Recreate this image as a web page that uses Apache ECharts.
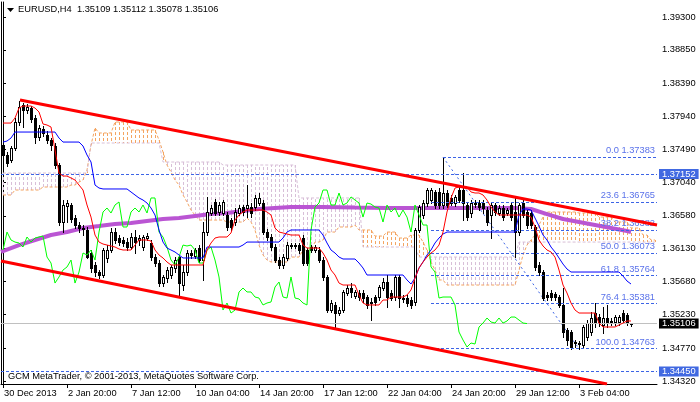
<!DOCTYPE html>
<html><head><meta charset="utf-8">
<script src="https://cdn.jsdelivr.net/npm/echarts/dist/echarts.min.js"></script>
<style>html,body{margin:0;padding:0;background:#fff}#c{width:700px;height:402px}</style>
</head><body><div id="c"></div>
<script>
const FONT = "'Liberation Sans', Arial, sans-serif";
const FS = 9.3;

const xTickBars = [0,16,32,48,64,80,96,112,128,144];
const xTickLabels = ['30 Dec 2013','2 Jan 20:00','7 Jan 12:00','10 Jan 04:00','14 Jan 20:00','17 Jan 12:00','22 Jan 04:00','24 Jan 20:00','29 Jan 12:00','3 Feb 04:00'];
const yTicks = [1.34320,1.34770,1.35230,1.35680,1.36130,1.36580,1.37040,1.37490,1.37940,1.38390,1.38850,1.39300];

const open = [
1.37548,1.37412,1.37343,1.37507,1.37863,1.38096,1.38027,1.38055,1.37918,1.37658,
1.37767,1.37685,1.37617,1.37535,1.37275,1.36495,1.36714,1.36728,1.36550,1.36454,
1.36413,1.36386,1.36071,1.35907,1.35811,1.35770,1.36003,1.36112,1.36358,1.36276,
1.36249,1.36221,1.36153,1.36290,1.36249,1.36153,1.36276,1.36208,1.36016,1.35934,
1.35660,1.35729,1.35770,1.35866,1.36016,1.35633,1.35811,1.36071,1.36030,1.36139,
1.35975,1.36358,1.36618,1.36769,1.36632,1.36618,1.36591,1.36522,1.36495,1.36618,
1.36700,1.36687,1.36700,1.36700,1.36755,1.36755,1.36358,1.36290,1.36153,1.35975,
1.35907,1.36003,1.36180,1.36167,1.36180,1.36276,1.36112,1.36153,1.36112,1.36112,
1.35975,1.35743,1.35291,1.35360,1.35250,1.35291,1.35524,1.35592,1.35483,1.35524,
1.35524,1.35469,1.35401,1.35469,1.35469,1.35592,1.35674,1.35524,1.35469,1.35743,
1.35455,1.35455,1.35428,1.35401,1.36386,1.36591,1.36755,1.36796,1.36906,1.36906,
1.36728,1.36892,1.36824,1.36755,1.36933,1.36933,1.36728,1.36618,1.36755,1.36755,
1.36755,1.36659,1.36591,1.36728,1.36618,1.36687,1.36618,1.36728,1.36632,1.36358,
1.36755,1.36632,1.36618,1.36427,1.35907,1.35811,1.35496,1.35524,1.35510,1.35469,
1.35360,1.35018,1.34990,1.34853,1.34840,1.34812,1.34922,1.34990,1.35250,1.35195,
1.35086,1.35182,1.35127,1.35127,1.35127,1.35250,1.35223,1.35109];
const high = [
1.37617,1.37453,1.37535,1.37918,1.38150,1.38123,1.38109,1.38082,1.37959,1.37822,
1.37808,1.37740,1.37644,1.37576,1.37302,1.36796,1.36796,1.36755,1.36591,1.36495,
1.36454,1.36427,1.36112,1.35948,1.35838,1.36139,1.36180,1.36413,1.36413,1.36317,
1.36290,1.36276,1.36345,1.36386,1.36317,1.36317,1.36345,1.36249,1.36057,1.35975,
1.35770,1.35880,1.35907,1.36016,1.36044,1.35907,1.36112,1.36112,1.36139,1.36180,
1.36495,1.36838,1.36728,1.36810,1.36769,1.36796,1.36632,1.36550,1.36687,1.36728,
1.36728,1.37001,1.36755,1.36865,1.36892,1.36796,1.36399,1.36331,1.36194,1.36016,
1.36057,1.36221,1.36208,1.36208,1.36208,1.36317,1.36139,1.36180,1.36180,1.36153,
1.36016,1.35770,1.35428,1.35401,1.35332,1.35565,1.35633,1.35660,1.35565,1.35565,
1.35565,1.35496,1.35455,1.35496,1.35633,1.35729,1.35770,1.35565,1.35770,1.35770,
1.35496,1.35496,1.35469,1.36413,1.36728,1.36796,1.36960,1.36960,1.36933,1.36960,
1.37383,1.36933,1.36865,1.36865,1.37001,1.37165,1.36755,1.36796,1.36796,1.36796,
1.36796,1.36700,1.36755,1.36755,1.36728,1.36728,1.36687,1.36755,1.36838,1.36755,
1.36796,1.36659,1.36659,1.36454,1.35948,1.35838,1.35538,1.35565,1.35538,1.35496,
1.35592,1.35045,1.35018,1.34881,1.34867,1.35086,1.35154,1.35264,1.35387,1.35236,
1.35332,1.35360,1.35182,1.35223,1.35223,1.35291,1.35250,1.35112];
const low = [
1.37302,1.37261,1.37316,1.37480,1.37822,1.37795,1.37986,1.37863,1.37576,1.37617,
1.37672,1.37576,1.37480,1.37234,1.36454,1.36358,1.36495,1.36495,1.36413,1.36358,
1.36317,1.36003,1.35811,1.35756,1.35729,1.35743,1.35948,1.36085,1.36208,1.36180,
1.36167,1.36112,1.36126,1.36071,1.36180,1.36112,1.36249,1.35975,1.35893,1.35619,
1.35619,1.35674,1.35729,1.35811,1.35469,1.35565,1.35770,1.36003,1.36003,1.35948,
1.35702,1.36317,1.36591,1.36591,1.36591,1.36591,1.36386,1.36386,1.36454,1.36591,
1.36591,1.36563,1.36563,1.36659,1.36728,1.36331,1.36249,1.36112,1.35948,1.35866,
1.35866,1.35975,1.36139,1.36139,1.36071,1.35907,1.35907,1.36085,1.36085,1.35948,
1.35702,1.35264,1.35264,1.35045,1.35223,1.35264,1.35496,1.35469,1.35455,1.35428,
1.35401,1.35319,1.35154,1.35360,1.35428,1.35565,1.35332,1.35428,1.35428,1.35332,
1.35401,1.35346,1.35319,1.35360,1.36358,1.36550,1.36714,1.36755,1.36687,1.36687,
1.36687,1.36700,1.36728,1.36714,1.36769,1.36522,1.36522,1.36563,1.36700,1.36659,
1.36618,1.36454,1.36276,1.36591,1.36591,1.36522,1.36591,1.36522,1.36016,1.36317,
1.36563,1.36413,1.36413,1.35838,1.35770,1.35428,1.35428,1.35428,1.35428,1.35332,
1.34922,1.34812,1.34758,1.34785,1.34758,1.34785,1.34881,1.34950,1.35059,1.35072,
1.34977,1.35059,1.35086,1.35086,1.35086,1.35113,1.35086,1.35078];
const close = [
1.37412,1.37302,1.37507,1.37863,1.38068,1.38027,1.38068,1.37904,1.37658,1.37781,
1.37713,1.37617,1.37548,1.37275,1.36495,1.36728,1.36755,1.36536,1.36454,1.36413,
1.36399,1.36016,1.35866,1.35811,1.35770,1.36112,1.36112,1.36358,1.36249,1.36221,
1.36208,1.36153,1.36290,1.36221,1.36276,1.36290,1.36303,1.36016,1.35934,1.35660,
1.35743,1.35838,1.35880,1.35975,1.35660,1.35811,1.36071,1.36044,1.36112,1.35975,
1.36358,1.36632,1.36687,1.36618,1.36728,1.36769,1.36427,1.36427,1.36632,1.36687,
1.36632,1.36728,1.36618,1.36824,1.36824,1.36358,1.36290,1.36153,1.35975,1.35907,
1.36016,1.36180,1.36167,1.36180,1.36112,1.35934,1.35934,1.36112,1.36153,1.35975,
1.35743,1.35291,1.35387,1.35250,1.35291,1.35538,1.35592,1.35538,1.35538,1.35469,
1.35455,1.35360,1.35387,1.35401,1.35606,1.35674,1.35469,1.35455,1.35743,1.35455,
1.35442,1.35387,1.35360,1.36386,1.36700,1.36755,1.36933,1.36933,1.36728,1.36728,
1.36892,1.36728,1.36755,1.36838,1.36796,1.36755,1.36563,1.36755,1.36741,1.36700,
1.36687,1.36495,1.36728,1.36632,1.36687,1.36563,1.36659,1.36563,1.36358,1.36728,
1.36591,1.36454,1.36454,1.35880,1.35811,1.35455,1.35469,1.35469,1.35469,1.35360,
1.34990,1.34881,1.34785,1.34840,1.34826,1.35059,1.35113,1.35182,1.35127,1.35113,
1.35182,1.35113,1.35141,1.35195,1.35195,1.35154,1.35113,1.35106];

const tenkan = [
1.37849,1.37849,1.37849,1.37918,1.38055,1.38082,1.38082,1.38082,1.38055,1.38000,
1.37836,1.37822,1.37795,1.37480,1.37165,1.37124,1.37124,1.37097,1.37070,1.37001,
1.36933,1.36728,1.36563,1.36317,1.36221,1.36194,1.36180,1.36167,1.36153,1.36126,
1.36112,1.36112,1.36112,1.36180,1.36249,1.36249,1.36249,1.36235,1.36112,1.36044,
1.36003,1.35948,1.35907,1.35907,1.35907,1.35907,1.35907,1.35907,1.35907,1.35907,
1.35907,1.36112,1.36208,1.36276,1.36290,1.36290,1.36290,1.36345,1.36522,1.36591,
1.36632,1.36659,1.36659,1.36659,1.36659,1.36659,1.36632,1.36591,1.36413,1.36358,
1.36345,1.36331,1.36317,1.36317,1.36317,1.36180,1.36139,1.36139,1.36139,1.36139,
1.36071,1.35975,1.35838,1.35770,1.35660,1.35633,1.35633,1.35633,1.35633,1.35496,
1.35387,1.35360,1.35360,1.35360,1.35360,1.35428,1.35428,1.35469,1.35469,1.35469,
1.35469,1.35496,1.35565,1.35729,1.35866,1.35948,1.36016,1.36071,1.36112,1.36180,
1.36358,1.36632,1.36824,1.36960,1.36974,1.36974,1.36974,1.36906,1.36892,1.36892,
1.36865,1.36796,1.36700,1.36632,1.36591,1.36591,1.36591,1.36591,1.36591,1.36591,
1.36591,1.36591,1.36563,1.36427,1.36249,1.36167,1.36112,1.36085,1.36016,1.35838,
1.35633,1.35524,1.35387,1.35291,1.35250,1.35250,1.35250,1.35250,1.35250,1.35113,
1.35059,1.35059,1.35059,1.35059,1.35086,1.35113,1.35141,1.35141];
const kijun = [
1.37589,1.37603,1.37644,1.37726,1.37726,1.37726,1.37726,1.37726,1.37726,1.37726,
1.37726,1.37726,1.37726,1.37726,1.37644,1.37589,1.37589,1.37589,1.37589,1.37589,
1.37535,1.37412,1.37316,1.37001,1.36960,1.36947,1.36947,1.36947,1.36947,1.36947,
1.36947,1.36947,1.36906,1.36865,1.36824,1.36796,1.36755,1.36687,1.36591,1.36386,
1.36221,1.36139,1.36112,1.36085,1.36044,1.36003,1.36003,1.36003,1.36003,1.36003,
1.36003,1.36153,1.36153,1.36153,1.36153,1.36153,1.36153,1.36153,1.36153,1.36153,
1.36180,1.36221,1.36221,1.36221,1.36221,1.36221,1.36221,1.36221,1.36221,1.36221,
1.36276,1.36358,1.36386,1.36386,1.36386,1.36386,1.36386,1.36386,1.36386,1.36386,
1.36317,1.36208,1.36112,1.36071,1.36016,1.35989,1.35989,1.35989,1.35989,1.35934,
1.35866,1.35770,1.35770,1.35770,1.35770,1.35770,1.35770,1.35770,1.35770,1.35770,
1.35770,1.35702,1.35647,1.35729,1.35866,1.35948,1.36044,1.36112,1.36208,1.36276,
1.36331,1.36358,1.36358,1.36358,1.36358,1.36358,1.36358,1.36358,1.36358,1.36358,
1.36358,1.36358,1.36358,1.36358,1.36358,1.36358,1.36358,1.36358,1.36358,1.36591,
1.36673,1.36673,1.36659,1.36550,1.36440,1.36317,1.36249,1.36153,1.36085,1.36003,
1.35920,1.35852,1.35811,1.35811,1.35811,1.35811,1.35811,1.35811,1.35811,1.35811,
1.35811,1.35811,1.35811,1.35811,1.35811,1.35756,1.35688,1.35647];
const chikou = [
1.36112,1.36358,1.36249,1.36221,1.36208,1.36153,1.36290,1.36221,1.36276,1.36290,
1.36303,1.36016,1.35934,1.35660,1.35743,1.35838,1.35880,1.35975,1.35660,1.35811,
1.36071,1.36044,1.36112,1.35975,1.36358,1.36632,1.36687,1.36618,1.36728,1.36769,
1.36427,1.36427,1.36632,1.36687,1.36632,1.36728,1.36618,1.36824,1.36824,1.36358,
1.36290,1.36153,1.35975,1.35907,1.36016,1.36180,1.36167,1.36180,1.36112,1.35934,
1.35934,1.36112,1.36153,1.35975,1.35743,1.35291,1.35387,1.35250,1.35291,1.35538,
1.35592,1.35538,1.35538,1.35469,1.35455,1.35360,1.35387,1.35401,1.35606,1.35674,
1.35469,1.35455,1.35743,1.35455,1.35442,1.35387,1.35360,1.36386,1.36700,1.36755,
1.36933,1.36933,1.36728,1.36728,1.36892,1.36728,1.36755,1.36838,1.36796,1.36755,
1.36563,1.36755,1.36741,1.36700,1.36687,1.36495,1.36728,1.36632,1.36687,1.36563,
1.36659,1.36563,1.36358,1.36728,1.36591,1.36454,1.36454,1.35880,1.35811,1.35455,
1.35469,1.35469,1.35469,1.35360,1.34990,1.34881,1.34785,1.34840,1.34826,1.35059,
1.35113,1.35182,1.35127,1.35113,1.35182,1.35113,1.35141,1.35195,1.35195,1.35154,
1.35113,1.35106];
const spanA = [
1.36865,1.36865,1.36865,1.36933,1.36933,1.36933,1.36933,1.36933,1.36933,1.36933,
1.36974,1.36974,1.36974,1.36974,1.36974,1.36974,1.36974,1.37001,1.37001,1.37042,
1.37070,1.37206,1.37548,1.37781,1.37713,1.37713,1.37713,1.37713,1.37863,1.37863,
1.37863,1.37863,1.37754,1.37754,1.37754,1.37754,1.37754,1.37754,1.37754,1.37617,
1.37453,1.37275,1.37179,1.37070,1.37001,1.36865,1.36769,1.36659,1.36591,1.36522,
1.36522,1.36522,1.36522,1.36522,1.36522,1.36522,1.36495,1.36495,1.36495,1.36495,
1.36495,1.36550,1.36495,1.36386,1.36180,1.36044,1.35975,1.35948,1.35948,1.35948,
1.35948,1.35948,1.36016,1.36016,1.36016,1.36112,1.36112,1.36112,1.36221,1.36221,
1.36249,1.36358,1.36358,1.36358,1.36427,1.36427,1.36427,1.36427,1.36454,1.36386,
1.36386,1.36386,1.36386,1.36303,1.36303,1.36303,1.36358,1.36358,1.36358,1.36276,
1.36276,1.36276,1.36317,1.36317,1.36317,1.36221,1.36112,1.35948,1.35838,1.35702,
1.35702,1.35633,1.35633,1.35633,1.35633,1.35633,1.35633,1.35633,1.35633,1.35633,
1.35633,1.35633,1.35633,1.35633,1.35633,1.35633,1.35633,1.35633,1.35633,1.35838,
1.36044,1.36180,1.36249,1.36317,1.36454,1.36563,1.36632,1.36632,1.36632,1.36632,
1.36632,1.36632,1.36632,1.36632,1.36618,1.36618,1.36618,1.36618,1.36618,1.36563,
1.36563,1.36563,1.36563,1.36495,1.36495,1.36495,1.36495,1.36413,1.36413,1.36413,
1.36317,1.36317,1.36249,1.36249];
const spanB = [
1.37165,1.37165,1.37165,1.37165,1.37165,1.37165,1.37165,1.37165,1.37165,1.37165,
1.37165,1.37165,1.37165,1.37165,1.37165,1.37165,1.37165,1.37165,1.37165,1.37165,
1.37165,1.37165,1.37576,1.37576,1.37576,1.37576,1.37576,1.37576,1.37576,1.37576,
1.37576,1.37576,1.37576,1.37576,1.37576,1.37576,1.37576,1.37576,1.37576,1.37576,
1.37316,1.37316,1.37316,1.37316,1.37316,1.37316,1.37316,1.37316,1.37316,1.37316,
1.37316,1.37316,1.37316,1.37316,1.37316,1.37275,1.37275,1.37275,1.37275,1.37275,
1.37275,1.37275,1.37275,1.37275,1.37275,1.37275,1.37275,1.37275,1.37275,1.37275,
1.37275,1.37275,1.37275,1.37275,1.36824,1.36824,1.36824,1.36824,1.36824,1.36824,
1.36824,1.36824,1.36824,1.36824,1.36824,1.36824,1.36824,1.36824,1.36824,1.36824,
1.36153,1.36153,1.36153,1.36153,1.36153,1.36153,1.36153,1.36153,1.36153,1.36153,
1.36153,1.36153,1.36153,1.36153,1.36016,1.36016,1.36016,1.36016,1.36016,1.36016,
1.36016,1.36016,1.36016,1.36016,1.36016,1.36016,1.36016,1.36016,1.36016,1.36016,
1.36016,1.36016,1.36016,1.36016,1.36016,1.36016,1.36016,1.36016,1.36016,1.36221,
1.36221,1.36221,1.36221,1.36221,1.36221,1.36221,1.36221,1.36221,1.36221,1.36221,
1.36221,1.36221,1.36221,1.36221,1.36221,1.36221,1.36221,1.36221,1.36221,1.36221,
1.36221,1.36221,1.36221,1.36221,1.36221,1.36221,1.36221,1.36221,1.36221,1.36221,
1.36221,1.36221,1.36221,1.36221];

const maBars = [-0.5,0,4,8,12,16,20,24,28,32,36,40,44,48,52,56,60,64,68,72,80,88,96,104,112,120,128,132,136,140,144,148,152,156,157];
const maValues = [1.36085,1.36112,1.36180,1.36249,1.36317,1.36358,1.36413,1.36440,1.36468,1.36481,1.36509,1.36536,1.36550,1.36577,1.36604,1.36618,1.36645,1.36673,1.36687,1.36700,1.36700,1.36693,1.36687,1.36687,1.36687,1.36687,1.36687,1.36673,1.36604,1.36536,1.36495,1.36454,1.36413,1.36372,1.36358];

const upperTrendBars = [4.25, 163.5];
const upperTrendValues = [1.38164, 1.36454];
const lowerTrendBars = [-0.5, 151];
const lowerTrendValues = [1.35962, 1.34279];

const fibLevels = [0.0, 23.6, 38.2, 50.0, 61.8, 76.4, 100.0];
const fibPrices = [1.37383, 1.36765, 1.36382, 1.36073, 1.35764, 1.35381, 1.34763];
const fibStartBars = [110, 107, 107, 107, 107, 107, 107];
const fibDiagBars = [110, 144];
const fibDiagValues = [1.37383, 1.34763];

const hLevels = [1.37152, 1.34450];
const bidPrice = 1.35106;
const titleText = 'EURUSD,H4  1.35109 1.35112 1.35078 1.35106';
const footerText = 'GCM MetaTrader, \u00A9 2001-2013, MetaQuotes Software Corp.';

const XMIN = -0.5, XMAX = 163.5, YMIN = 1.34279, YMAX = 1.39505;
const FIB = '#3c64e6';

const chart = echarts.init(document.getElementById('c'), null, {renderer: 'canvas', width: 700, height: 402});

const candleData = open.map((o, i) => [i, o, high[i], low[i], close[i]]);
const cloudData = spanA.map((a, i) => [i, a, spanB[i]]);
const zipBars = (bars, vals) => bars.map((b, i) => [b, vals[i]]);

function renderCandle(params, api) {
  const i = api.value(0), o = api.value(1), h = api.value(2), l = api.value(3), c = api.value(4);
  const ph = api.coord([i, h]), pl = api.coord([i, l]), po = api.coord([i, o]), pc = api.coord([i, c]);
  const x = Math.round(ph[0]);
  const yH = Math.round(ph[1]), yL = Math.round(pl[1]);
  const yO = Math.round(po[1]), yC = Math.round(pc[1]);
  const top = Math.min(yO, yC), bot = Math.max(yO, yC);
  const ch = [
    {type: 'rect', shape: {x: x, y: yH, width: 1, height: Math.max(1, yL - yH + 1)}, style: {fill: '#000'}},
    {type: 'rect', shape: {x: x - 1, y: top, width: 3, height: Math.max(1, bot - top + 1)}, style: {fill: '#000'}}
  ];
  if (c > o && bot - top >= 2) {
    ch.push({type: 'rect', shape: {x: x, y: top + 1, width: 1, height: bot - top - 1}, style: {fill: '#fff'}});
  }
  return {type: 'group', children: ch};
}

function renderCloud(params, api) {
  const i = api.value(0), a = api.value(1), b = api.value(2);
  const pa = api.coord([i, a]), pb = api.coord([i, b]);
  const x = Math.round(pa[0]) + 0.5;
  return {type: 'line', shape: {x1: x, y1: pa[1], x2: x, y2: pb[1]},
    style: {stroke: a > b ? '#F4A460' : '#D8BFD8', lineWidth: 1, lineDash: [3, 2]}};
}

const lineBase = {type: 'line', showSymbol: false, symbol: 'none', silent: true, animation: false};
const boxLabel = (txt, bg) => ({show: true, position: 'end', distance: 2, formatter: txt,
  backgroundColor: bg, color: '#fff', padding: [1, 3, 0, 3], fontFamily: FONT, fontSize: FS});

const option = {
  animation: false,
  backgroundColor: '#fff',
  grid: {left: 1, right: 43, top: 2, bottom: 18, containLabel: false},
  xAxis: {
    type: 'value', min: XMIN, max: XMAX,
    axisLine: {show: true, onZero: false, lineStyle: {color: '#000', width: 1}},
    axisTick: {show: true, customValues: xTickBars, length: 4, lineStyle: {color: '#000'}},
    axisLabel: {customValues: xTickBars, formatter: v => xTickLabels[xTickBars.indexOf(v)],
      align: 'left', margin: 5, color: '#000', fontFamily: FONT, fontSize: FS, padding: [0, 0, 0, 1]},
    splitLine: {show: false}
  },
  yAxis: [{
    type: 'value', position: 'right', min: YMIN, max: YMAX,
    axisLine: {show: true, lineStyle: {color: '#000', width: 1}},
    axisTick: {show: true, customValues: yTicks, length: 3, lineStyle: {color: '#000'}},
    axisLabel: {customValues: yTicks, formatter: v => v.toFixed(5), margin: 5,
      color: '#000', fontFamily: FONT, fontSize: FS},
    splitLine: {show: false}
  }, {
    type: 'value', position: 'left', min: YMIN, max: YMAX,
    axisLine: {show: true, lineStyle: {color: '#000', width: 1}},
    axisTick: {show: false}, axisLabel: {show: false}, splitLine: {show: false}
  }],
  series: [
    {type: 'custom', name: 'cloud', renderItem: renderCloud, data: cloudData,
      encode: {x: 0, y: [1, 2]}, z: 1, silent: true, animation: false, clip: true},
    Object.assign({}, lineBase, {name: 'spanA', data: spanA.map((v, i) => [i, v]), z: 1,
      lineStyle: {color: '#F4A460', width: 1, type: [3, 2]}}),
    Object.assign({}, lineBase, {name: 'spanB', data: spanB.map((v, i) => [i, v]), z: 1,
      lineStyle: {color: '#D8BFD8', width: 1, type: [3, 2]}}),
    Object.assign({}, lineBase, {name: 'levels', data: [], z: 2,
      markLine: {silent: true, animation: false, symbol: ['none', 'none'], precision: 5,
        data: [
          {yAxis: hLevels[0], lineStyle: {color: FIB, width: 1, type: [3, 2]}, label: boxLabel(hLevels[0].toFixed(5), '#4169E1')},
          {yAxis: hLevels[1], lineStyle: {color: FIB, width: 1, type: [3, 2]}, label: boxLabel(hLevels[1].toFixed(5), '#4169E1')},
          {yAxis: bidPrice, lineStyle: {color: '#c0c0c0', width: 1, type: 'solid'}, label: boxLabel(bidPrice.toFixed(5), '#000')}
        ].concat(fibLevels.map((lv, k) => [
          {coord: [fibStartBars[k], fibPrices[k]], lineStyle: {color: FIB, width: 1, type: [3, 2]},
            label: {show: true, position: 'insideEndTop', distance: [2, 2],
              formatter: lv.toFixed(1) + ' ' + fibPrices[k].toFixed(5),
              color: '#5a72ea', fontFamily: FONT, fontSize: FS}},
          {coord: [XMAX, fibPrices[k]]}
        ]))
      }}),
    Object.assign({}, lineBase, {name: 'fibDiag', data: zipBars(fibDiagBars, fibDiagValues), z: 2,
      lineStyle: {color: FIB, width: 1, type: [2, 3]}}),
    Object.assign({}, lineBase, {name: 'ma', data: zipBars(maBars, maValues), z: 3,
      lineStyle: {color: '#BA55D3', width: 4}}),
    {type: 'custom', name: 'candles', renderItem: renderCandle, data: candleData,
      encode: {x: 0, y: [1, 2, 3, 4]}, z: 4, silent: true, animation: false, clip: true},
    Object.assign({}, lineBase, {name: 'chikou', data: chikou.map((v, i) => [i, v]), z: 5,
      lineStyle: {color: '#00FF00', width: 1}}),
    Object.assign({}, lineBase, {name: 'kijun', data: kijun.map((v, i) => [i, v]), z: 5,
      lineStyle: {color: '#0000FF', width: 1}}),
    Object.assign({}, lineBase, {name: 'tenkan', data: tenkan.map((v, i) => [i, v]), z: 5,
      lineStyle: {color: '#FF0000', width: 1}}),
    Object.assign({}, lineBase, {name: 'upperTrend', data: zipBars(upperTrendBars, upperTrendValues), z: 6,
      lineStyle: {color: '#FF0000', width: 3}}),
    Object.assign({}, lineBase, {name: 'lowerTrend', data: zipBars(lowerTrendBars, lowerTrendValues), z: 6,
      lineStyle: {color: '#FF0000', width: 3}})
  ],
  graphic: [
    {type: 'polygon', left: 7, top: 8, shape: {points: [[0, 0], [7, 0], [3.5, 4]]}, style: {fill: '#000'}, silent: true},
    {type: 'text', left: 18, top: 5, style: {text: titleText, fill: '#000', font: FS + 'px ' + FONT}, silent: true},
    {type: 'text', left: 8, top: 372, style: {text: footerText, fill: '#000', font: FS + 'px ' + FONT}, silent: true}
  ]
};
chart.setOption(option);
</script>
</body></html>
